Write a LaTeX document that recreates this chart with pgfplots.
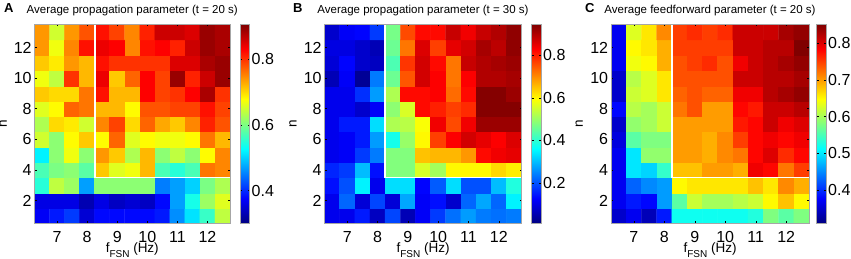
\documentclass[border=0pt]{standalone}
\usepackage{fontspec}
\setmainfont{Liberation Sans}
\usepackage{pgfplots}
\pgfplotsset{compat=1.18}
\newcommand\tkfont{\fontsize{16}{16}\selectfont}
\newcommand\lbfont{\fontsize{13.5}{13.5}\selectfont}
\newcommand\ttfont{\fontsize{11.5}{11.5}\selectfont}
\pgfplotsset{
  /pgf/number format/assume math mode=true,
  hm/.style={
    scale only axis, height=199pt, anchor=south west,
    xmin=6.25, xmax=12.75, ymin=0.5, ymax=13.5,
    xtick={7,8,9,10,11,12}, ytick={2,4,6,8,10,12},
    axis line style={draw=gray!70, line width=0.6pt},
    tick style={black, line width=0.4pt}, tick align=inside, major tick length=2pt,
    xticklabel style={font=\tkfont, anchor=base, inner sep=0pt, yshift=-19.5pt},
    yticklabel style={font=\tkfont, anchor=east, inner sep=0pt, xshift=-2.7pt},
    colormap/jet, colorbar, axis on top,
    xlabel={f\raisebox{-5pt}{\fontsize{10}{10}\selectfont FSN} (Hz)},
    xlabel style={font=\lbfont, at={(axis description cs:0.5,0)}, anchor=base, yshift=-29pt},
    ylabel={n},
    ylabel style={font=\lbfont, at={(axis description cs:-0.16,0.5)}, anchor=center, rotate=0},
    title style={font=\ttfont, at={(axis description cs:0.5,1)}, anchor=base, yshift=5pt},
    colorbar shift/.style={xshift=10pt},
    colorbar style={at={(parent axis.north east)}, anchor=north west, width=9.5pt,
      axis line style={draw=gray!70, line width=0.6pt},
      tick style={black, line width=0.4pt}, major tick length=2pt,
      yticklabel style={font=\tkfont, anchor=west, inner sep=0pt, xshift=2pt}},
  },
  hmcells/.style={matrix plot*, mesh/cols=13, point meta=explicit},
}
\newcommand\wline{\draw[white, line width=1.8pt] (axis cs:8.25,13.5) -- (axis cs:8.25,3.5) -- (axis cs:12.75,3.5);}
\begin{document}
\begin{tikzpicture}
% ---------------- A ----------------
\begin{axis}[hm, at={(34.5pt,35.5pt)}, width=195.5pt,
  point meta min=0.30, point meta max=0.905,
  colorbar style={ytick={0.4,0.6,0.8}},
  title={Average propagation parameter (t = 20 s)}]
\addplot[hmcells] coordinates {
(6.5,1)[0.37] (7,1)[0.39] (7.5,1)[0.41] (8,1)[0.35] (8.5,1)[0.38] (9,1)[0.38] (9.5,1)[0.38] (10,1)[0.38] (10.5,1)[0.39] (11,1)[0.46] (11.5,1)[0.51] (12,1)[0.56] (12.5,1)[0.64]

(6.5,2)[0.36] (7,2)[0.36] (7.5,2)[0.36] (8,2)[0.33] (8.5,2)[0.36] (9,2)[0.34] (9.5,2)[0.35] (10,2)[0.34] (10.5,2)[0.38] (11,2)[0.47] (11.5,2)[0.54] (12,2)[0.62] (12.5,2)[0.66]

(6.5,3)[0.55] (7,3)[0.64] (7.5,3)[0.62] (8,3)[0.47] (8.5,3)[0.61] (9,3)[0.61] (9.5,3)[0.61] (10,3)[0.61] (10.5,3)[0.45] (11,3)[0.47] (11.5,3)[0.50] (12,3)[0.60] (12.5,3)[0.63]

(6.5,4)[0.57] (7,4)[0.60] (7.5,4)[0.61] (8,4)[0.58] (8.5,4)[0.71] (9,4)[0.66] (9.5,4)[0.67] (10,4)[0.72] (10.5,4)[0.57] (11,4)[0.55] (11.5,4)[0.57] (12,4)[0.76] (12.5,4)[0.75]

(6.5,5)[0.52] (7,5)[0.61] (7.5,5)[0.67] (8,5)[0.61] (8.5,5)[0.74] (9,5)[0.71] (9.5,5)[0.63] (10,5)[0.72] (10.5,5)[0.61] (11,5)[0.64] (11.5,5)[0.61] (12,5)[0.68] (12.5,5)[0.75]

(6.5,6)[0.65] (7,6)[0.61] (7.5,6)[0.68] (8,6)[0.71] (8.5,6)[0.68] (9,6)[0.77] (9.5,6)[0.66] (10,6)[0.68] (10.5,6)[0.67] (11,6)[0.67] (11.5,6)[0.68] (12,6)[0.76] (12.5,6)[0.72]

(6.5,7)[0.63] (7,7)[0.70] (7.5,7)[0.69] (8,7)[0.65] (8.5,7)[0.75] (9,7)[0.79] (9.5,7)[0.70] (10,7)[0.77] (10.5,7)[0.73] (11,7)[0.71] (11.5,7)[0.75] (12,7)[0.81] (12.5,7)[0.78]

(6.5,8)[0.66] (7,8)[0.68] (7.5,8)[0.77] (8,8)[0.76] (8.5,8)[0.72] (9,8)[0.72] (9.5,8)[0.68] (10,8)[0.78] (10.5,8)[0.78] (11,8)[0.79] (11.5,8)[0.79] (12,8)[0.82] (12.5,8)[0.79]

(6.5,9)[0.71] (7,9)[0.70] (7.5,9)[0.70] (8,9)[0.76] (8.5,9)[0.82] (9,9)[0.72] (9.5,9)[0.72] (10,9)[0.83] (10.5,9)[0.79] (11,9)[0.80] (11.5,9)[0.83] (12,9)[0.88] (12.5,9)[0.80]

(6.5,10)[0.67] (7,10)[0.64] (7.5,10)[0.80] (8,10)[0.72] (8.5,10)[0.84] (9,10)[0.71] (9.5,10)[0.77] (10,10)[0.83] (10.5,10)[0.79] (11,10)[0.89] (11.5,10)[0.81] (12,10)[0.86] (12.5,10)[0.89]

(6.5,11)[0.71] (7,11)[0.69] (7.5,11)[0.74] (8,11)[0.72] (8.5,11)[0.82] (9,11)[0.80] (9.5,11)[0.80] (10,11)[0.80] (10.5,11)[0.80] (11,11)[0.85] (11.5,11)[0.85] (12,11)[0.88] (12.5,11)[0.89]

(6.5,12)[0.74] (7,12)[0.67] (7.5,12)[0.75] (8,12)[0.82] (8.5,12)[0.84] (9,12)[0.83] (9.5,12)[0.75] (10,12)[0.82] (10.5,12)[0.83] (11,12)[0.81] (11.5,12)[0.86] (12,12)[0.89] (12.5,12)[0.88]

(6.5,13)[0.74] (7,13)[0.65] (7.5,13)[0.74] (8,13)[0.78] (8.5,13)[0.82] (9,13)[0.79] (9.5,13)[0.75] (10,13)[0.81] (10.5,13)[0.86] (11,13)[0.86] (11.5,13)[0.85] (12,13)[0.89] (12.5,13)[0.88]
};
\wline
\end{axis}
% ---------------- B ----------------
\begin{axis}[hm, at={(324.5pt,35.5pt)}, width=197pt,
  point meta min=0.01, point meta max=0.945,
  colorbar style={ytick={0.2,0.4,0.6,0.8}},
  title={Average propagation parameter (t = 30 s)}]
\addplot[hmcells] coordinates {
(6.5,1)[0.11] (7,1)[0.11] (7.5,1)[0.15] (8,1)[0.07] (8.5,1)[0.19] (9,1)[0.06] (9.5,1)[0.12] (10,1)[0.18] (10.5,1)[0.23] (11,1)[0.27] (11.5,1)[0.24] (12,1)[0.23] (12.5,1)[0.24]

(6.5,2)[0.11] (7,2)[0.22] (7.5,2)[0.09] (8,2)[0.19] (8.5,2)[0.09] (9,2)[0.28] (9.5,2)[0.12] (10,2)[0.14] (10.5,2)[0.08] (11,2)[0.22] (11.5,2)[0.28] (12,2)[0.22] (12.5,2)[0.35]

(6.5,3)[0.14] (7,3)[0.20] (7.5,3)[0.35] (8,3)[0.11] (8.5,3)[0.33] (9,3)[0.33] (9.5,3)[0.13] (10,3)[0.21] (10.5,3)[0.33] (11,3)[0.20] (11.5,3)[0.20] (12,3)[0.30] (12.5,3)[0.39]

(6.5,4)[0.16] (7,4)[0.18] (7.5,4)[0.30] (8,4)[0.14] (8.5,4)[0.48] (9,4)[0.48] (9.5,4)[0.56] (10,4)[0.51] (10.5,4)[0.60] (11,4)[0.60] (11.5,4)[0.60] (12,4)[0.63] (12.5,4)[0.61]

(6.5,5)[0.11] (7,5)[0.12] (7.5,5)[0.18] (8,5)[0.24] (8.5,5)[0.48] (9,5)[0.48] (9.5,5)[0.65] (10,5)[0.66] (10.5,5)[0.66] (11,5)[0.69] (11.5,5)[0.82] (12,5)[0.84] (12.5,5)[0.85]

(6.5,6)[0.11] (7,6)[0.12] (7.5,6)[0.15] (8,6)[0.27] (8.5,6)[0.38] (9,6)[0.50] (9.5,6)[0.60] (10,6)[0.77] (10.5,6)[0.83] (11,6)[0.87] (11.5,6)[0.85] (12,6)[0.83] (12.5,6)[0.86]

(6.5,7)[0.11] (7,7)[0.15] (7.5,7)[0.15] (8,7)[0.33] (8.5,7)[0.52] (9,7)[0.53] (9.5,7)[0.59] (10,7)[0.84] (10.5,7)[0.76] (11,7)[0.84] (11.5,7)[0.92] (12,7)[0.92] (12.5,7)[0.92]

(6.5,8)[0.11] (7,8)[0.11] (7.5,8)[0.08] (8,8)[0.12] (8.5,8)[0.49] (9,8)[0.56] (9.5,8)[0.82] (10,8)[0.80] (10.5,8)[0.77] (11,8)[0.79] (11.5,8)[0.94] (12,8)[0.94] (12.5,8)[0.94]

(6.5,9)[0.11] (7,9)[0.11] (7.5,9)[0.17] (8,9)[0.27] (8.5,9)[0.52] (9,9)[0.82] (9.5,9)[0.82] (10,9)[0.83] (10.5,9)[0.73] (11,9)[0.82] (11.5,9)[0.94] (12,9)[0.94] (12.5,9)[0.92]

(6.5,10)[0.06] (7,10)[0.12] (7.5,10)[0.03] (8,10)[0.24] (8.5,10)[0.46] (9,10)[0.75] (9.5,10)[0.87] (10,10)[0.83] (10.5,10)[0.72] (11,10)[0.83] (11.5,10)[0.90] (12,10)[0.90] (12.5,10)[0.91]

(6.5,11)[0.09] (7,11)[0.13] (7.5,11)[0.08] (8,11)[0.07] (8.5,11)[0.43] (9,11)[0.78] (9.5,11)[0.87] (10,11)[0.82] (10.5,11)[0.72] (11,11)[0.88] (11.5,11)[0.90] (12,11)[0.91] (12.5,11)[0.92]

(6.5,12)[0.10] (7,12)[0.10] (7.5,12)[0.08] (8,12)[0.06] (8.5,12)[0.46] (9,12)[0.72] (9.5,12)[0.86] (10,12)[0.77] (10.5,12)[0.85] (11,12)[0.87] (11.5,12)[0.91] (12,12)[0.89] (12.5,12)[0.93]

(6.5,13)[0.08] (7,13)[0.12] (7.5,13)[0.13] (8,13)[0.18] (8.5,13)[0.47] (9,13)[0.76] (9.5,13)[0.82] (10,13)[0.82] (10.5,13)[0.88] (11,13)[0.84] (11.5,13)[0.88] (12,13)[0.90] (12.5,13)[0.93]
};
\wline
\end{axis}
% ---------------- C ----------------
\begin{axis}[hm, at={(611pt,35.5pt)}, width=198pt,
  point meta min=0.31, point meta max=0.85,
  colorbar shift/.style={xshift=7.5pt},
  colorbar style={ytick={0.4,0.5,0.6,0.7,0.8}},
  title={Average feedforward parameter (t = 20 s)}]
\addplot[hmcells] coordinates {
(6.5,1)[0.35] (7,1)[0.37] (7.5,1)[0.34] (8,1)[0.39] (8.5,1)[0.52] (9,1)[0.52] (9.5,1)[0.52] (10,1)[0.52] (10.5,1)[0.52] (11,1)[0.53] (11.5,1)[0.58] (12,1)[0.56] (12.5,1)[0.58]

(6.5,2)[0.37] (7,2)[0.39] (7.5,2)[0.38] (8,2)[0.46] (8.5,2)[0.56] (9,2)[0.62] (9.5,2)[0.60] (10,2)[0.60] (10.5,2)[0.61] (11,2)[0.62] (11.5,2)[0.65] (12,2)[0.68] (12.5,2)[0.65]

(6.5,3)[0.37] (7,3)[0.43] (7.5,3)[0.45] (8,3)[0.46] (8.5,3)[0.65] (9,3)[0.66] (9.5,3)[0.66] (10,3)[0.66] (10.5,3)[0.66] (11,3)[0.68] (11.5,3)[0.66] (12,3)[0.71] (12.5,3)[0.69]

(6.5,4)[0.37] (7,4)[0.50] (7.5,4)[0.49] (8,4)[0.54] (8.5,4)[0.68] (9,4)[0.68] (9.5,4)[0.70] (10,4)[0.70] (10.5,4)[0.69] (11,4)[0.79] (11.5,4)[0.78] (12,4)[0.72] (12.5,4)[0.75]

(6.5,5)[0.37] (7,5)[0.50] (7.5,5)[0.59] (8,5)[0.59] (8.5,5)[0.70] (9,5)[0.70] (9.5,5)[0.69] (10,5)[0.71] (10.5,5)[0.72] (11,5)[0.78] (11.5,5)[0.80] (12,5)[0.76] (12.5,5)[0.78]

(6.5,6)[0.36] (7,6)[0.56] (7.5,6)[0.58] (8,6)[0.58] (8.5,6)[0.70] (9,6)[0.70] (9.5,6)[0.69] (10,6)[0.71] (10.5,6)[0.75] (11,6)[0.78] (11.5,6)[0.79] (12,6)[0.78] (12.5,6)[0.79]

(6.5,7)[0.35] (7,7)[0.59] (7.5,7)[0.60] (8,7)[0.62] (8.5,7)[0.70] (9,7)[0.70] (9.5,7)[0.70] (10,7)[0.70] (10.5,7)[0.77] (11,7)[0.78] (11.5,7)[0.81] (12,7)[0.79] (12.5,7)[0.80]

(6.5,8)[0.38] (7,8)[0.61] (7.5,8)[0.60] (8,8)[0.62] (8.5,8)[0.72] (9,8)[0.74] (9.5,8)[0.70] (10,8)[0.70] (10.5,8)[0.78] (11,8)[0.77] (11.5,8)[0.81] (12,8)[0.81] (12.5,8)[0.82]

(6.5,9)[0.35] (7,9)[0.62] (7.5,9)[0.63] (8,9)[0.66] (8.5,9)[0.73] (9,9)[0.74] (9.5,9)[0.73] (10,9)[0.73] (10.5,9)[0.79] (11,9)[0.79] (11.5,9)[0.82] (12,9)[0.83] (12.5,9)[0.84]

(6.5,10)[0.35] (7,10)[0.61] (7.5,10)[0.63] (8,10)[0.66] (8.5,10)[0.74] (9,10)[0.74] (9.5,10)[0.74] (10,10)[0.74] (10.5,10)[0.81] (11,10)[0.81] (11.5,10)[0.82] (12,10)[0.82] (12.5,10)[0.83]

(6.5,11)[0.37] (7,11)[0.64] (7.5,11)[0.65] (8,11)[0.69] (8.5,11)[0.74] (9,11)[0.75] (9.5,11)[0.76] (10,11)[0.74] (10.5,11)[0.79] (11,11)[0.81] (11.5,11)[0.82] (12,11)[0.83] (12.5,11)[0.84]

(6.5,12)[0.37] (7,12)[0.65] (7.5,12)[0.66] (8,12)[0.69] (8.5,12)[0.75] (9,12)[0.75] (9.5,12)[0.75] (10,12)[0.75] (10.5,12)[0.81] (11,12)[0.81] (11.5,12)[0.82] (12,12)[0.82] (12.5,12)[0.85]

(6.5,13)[0.37] (7,13)[0.63] (7.5,13)[0.66] (8,13)[0.71] (8.5,13)[0.75] (9,13)[0.76] (9.5,13)[0.75] (10,13)[0.76] (10.5,13)[0.81] (11,13)[0.81] (11.5,13)[0.81] (12,13)[0.83] (12.5,13)[0.84]
};
\wline
\end{axis}
\node[anchor=base west, font=\bfseries\fontsize{13}{13}\selectfont, inner sep=0pt] at (4pt,246pt) {A};
\node[anchor=base west, font=\bfseries\fontsize{13}{13}\selectfont, inner sep=0pt] at (293pt,246pt) {B};
\node[anchor=base west, font=\bfseries\fontsize{13}{13}\selectfont, inner sep=0pt] at (585pt,246pt) {C};
\pgfresetboundingbox
\path[use as bounding box] (0pt,0pt) rectangle (851pt,259pt);
\end{tikzpicture}
\end{document}
